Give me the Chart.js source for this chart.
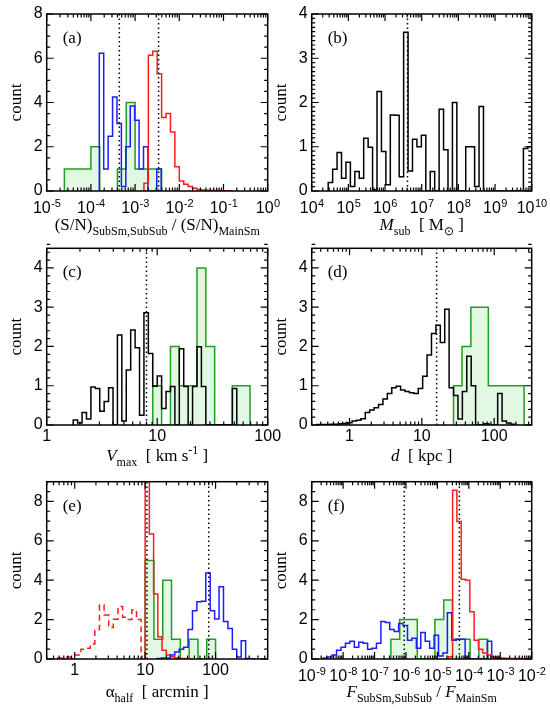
<!DOCTYPE html>
<html>
<head>
<meta charset="utf-8">
<script src="https://cdn.jsdelivr.net/npm/chart.js@4.4.0/dist/chart.umd.min.js"></script>
<style>
    body { margin: 0; width: 550px; height: 709px; background: #fff; position: relative; overflow: hidden; }
    canvas { position: absolute; }
</style>
</head>
<body>
<canvas id="panelA" width="290" height="245" style="left:0px;top:0px"></canvas>
<canvas id="panelB" width="285" height="245" style="left:270px;top:0px"></canvas>
<canvas id="panelC" width="290" height="245" style="left:0px;top:225px"></canvas>
<canvas id="panelD" width="285" height="245" style="left:270px;top:225px"></canvas>
<canvas id="panelE" width="290" height="249" style="left:0px;top:460px"></canvas>
<canvas id="panelF" width="285" height="249" style="left:270px;top:460px"></canvas>
<script>
// ---- data (bins given as log10 lower edge + log10 width, or explicit edges) ----

// (a) (S/N) ratio
const aBlueLo = -3.81, aBlueW = 0.1;
const aBlueCounts = [6.23, 1.0, 2.47, 4.25, 3.05, 0.2, 2.0, 3.84, 3.2, 1.0, 2.0, 0, 0, 1.0];
const aRedLo = -2.8, aRedW = 0.1;
const aRedCounts = [0.35, 6.13, 6.32, 5.3, 3.32, 3.5, 2.67, 1.1, 0.45, 0.3, 0.2, 0.12, 0.07, 0.04, 0.03, 0.02, 0.02, 0.01, 0.01, 0.01];
const aGreenLo = -4.6, aGreenW = 0.2;
const aGreenCounts = [1, 1, 1, 2, 0, 0, 1, 4, 1, 1, 1];
const aDotted = [4.4e-4, 3.4e-3];
const aXTicks = [1e-5, 1e-4, 1e-3, 1e-2, 1e-1, 1];
const aYTicks = [0, 2, 4, 6, 8];

// (b) M_sub
const bBlackLo = 4.45, bBlackW = 0.121;
const bBlackCounts = [0.19, 0.49, 0.87, 0.29, 0.65, 0.1, 0.44, 0.29, 1.19, 0.99,
    0.03, 2.25, 0.89, 0.14, 1.72, 1.71, 0.32, 3.59, 0.45, 1.17,
    1.0, 1.26, 0, 0.44, 0, 1.85, 0.93, 0, 2.0, 0,
    0, 1.0, 1.0, 0.1, 1.91, 0, 0, 0, 0, 0, 0, 0, 0, 0, 0.96, 1.0];
const bDotted = [4.1e6];
const bXTicks = [1e4, 1e5, 1e6, 1e7, 1e8, 1e9, 1e10];
const bYTicks = [0, 1, 2, 3, 4];

// (c) V_max
const cBlackLo = 0.24, cBlackW = 0.04;
const cBlackCounts = [0.13, 0.05, 0.32, 0.15, 0.97, 0.93, 0.35, 0.6, 0.95, 0, 2.29, 0.1, 1.4, 2.42, 1.97, 0.25,
    2.86, 1.82, 0.99, 1.25, 0.42, 0.85, 0.98, 0, 1.94, 0.98, 0, 0.98, 1.99, 0.98, 0, 0, 0, 0, 0, 0, 0.93];
const cGreenLo = 0.96, cGreenW = 0.08;
const cGreenCounts = [1, 0, 2, 1, 1, 4, 2, 0, 0, 1, 1];
const cDotted = [8.0];
const cXTicks = [1, 10, 100];
const cYTicks = [0, 1, 2, 3, 4];

// (d) distance
const dBlackLo = -0.453, dBlackW = 0.061;
const dBlackCounts = [0.01, 0.01, 0.01, 0.02, 0.02, 0.03, 0.04, 0.06, 0.1, 0.12, 0.16, 0.32, 0.38, 0.44, 0.52,
    0.66, 0.8, 0.95, 0.99, 0.89, 0.85, 0.82, 0.8, 0.93, 1.24, 1.78, 2.33, 2.54, 2.1, 2.95,
    0.95, 0.75, 0.15, 0.85, 1.75, 1.0, 0, 0, 0.03, 0, 0, 0.8, 0.1, 0.05, 0.02];
const dGreenEdges = [27.4, 35.9, 47.6, 83, 259];
const dGreenCounts = [1, 2, 3, 1];
const dDotted = [16];
const dXTicks = [1, 10, 100];
const dYTicks = [0, 1, 2, 3, 4];

// (e) alpha_half
const eRedLo = 1.0, eRedW = 0.06;
const eRedCounts = [12, 6.35, 3.3, 1.13, 0.45, 0.2, 0.12, 0.05, 0.03, 0.02, 0.01];
const eDashLo = -0.24, eDashW = 0.0657;
const eDashCounts = [0.05, 0.09, 0.1, 0.2, 0.2, 0.5, 0.55, 0.76, 1.5, 2.74, 2.23, 1.6, 2.02, 2.66, 2.12, 2.0, 2.5, 2.0];
const eBlueLo = 1.169, eBlueW = 0.0629;
const eBlueCounts = [0.02, 0.05, 0.05, 0.2, 0.35, 0.5, 0.6, 1.5, 2.45, 2.9, 2.93, 4.37, 2.45, 2.03, 3.67, 1.9, 1.55, 0.5, 0.1, 0.93, 0.02, 0.01];
const eGreenLo = 1.0, eGreenW = 0.125;
const eGreenCounts = [5, 1, 4, 1, 0, 1, 0, 1];
const eDotted = [10.6, 80];
const eXTicks = [1, 10, 100];
const eYTicks = [0, 2, 4, 6, 8];

// (f) flux ratio
const fRedLo = -4.654, fRedW = 0.137;
const fRedCounts = [0.12, 8.56, 6.98, 4.05, 4.0, 2.4, 0.95, 0.5, 0.3, 0.2, 0.12, 0.08, 0.05, 0.04, 0.03, 0.02, 0.02, 0.01];
const fBlueLo = -8.631, fBlueW = 0.141;
const fBlueCounts = [0.05, 0.1, 0.2, 0.45, 0.6, 0.8, 0.9, 0.6, 0.85, 0.8, 0.5, 0.55, 0.8, 1.9, 1.85, 1.5, 1.4, 1.8, 1.7, 0.95,
    1.05, 0.55, 1.35, 0.9, 0.55, 1.2, 0.15, 0.3, 2.35, 0.95, 1.0, 1.0, 0.05, 0, 0, 0, 0, 0.9, 0.1, 0.05];
const fGreenLo = -6.48, fGreenW = 0.28;
const fGreenCounts = [1, 2, 2, 0, 0, 2, 3, 1, 1, 0, 1];
const fDotted = [8.8e-7, 5.0e-5];
const fXTicks = [1e-9, 1e-8, 1e-7, 1e-6, 1e-5, 1e-4, 1e-3, 1e-2];
const fYTicks = [0, 2, 4, 6, 8];

// ---- helpers ----
const BLUE = '#1c1cff', RED = '#ff1c1c', GREEN = '#1f9f1f', GREEN_FILL = '#e2f8e2';

const logEdges = (lo, w, n) => Array.from({ length: n + 1 }, (_, i) => Math.pow(10, lo + i * w));

// outline of a histogram as stepped points
function stepPoints(edges, counts) {
    const pts = [{ x: edges[0], y: 0 }];
    counts.forEach((c, i) => pts.push({ x: edges[i], y: c }));
    pts.push({ x: edges[counts.length], y: 0 });
    return pts;
}
const histLog = (lo, w, counts) => stepPoints(logEdges(lo, w, counts.length), counts);

const plainLabel = v => String(Math.round(v));

const SERIF = "'Liberation Serif', 'Times New Roman', serif";
const SANS = "'Liberation Sans', Arial, sans-serif";

// draw a label made of pieces: '' normal, 'i' italic, 'sub', 'sup'
function drawRich(ctx, parts, cx, baseY, size) {
    const fontFor = st => {
        const sz = (st === 'sub' || st === 'sup') ? Math.round(size * 0.68) : size;
        return (st === 'i' ? 'italic ' : '') + sz + 'px ' + SERIF;
    };
    let total = 0;
    parts.forEach(([t, st]) => { ctx.font = fontFor(st); total += ctx.measureText(t).width; });
    let x = cx - total / 2;
    ctx.textAlign = 'left';
    ctx.textBaseline = 'alphabetic';
    parts.forEach(([t, st]) => {
        ctx.font = fontFor(st);
        const dy = st === 'sub' ? size * 0.28 : st === 'sup' ? -size * 0.4 : 0;
        ctx.fillText(t, x, baseY + dy);
        x += ctx.measureText(t).width;
    });
}

// "10" with a raised exponent, centred on px
function drawPow(ctx, v, px, top) {
    const exp = String(Math.round(Math.log10(v)));
    ctx.font = '16px ' + SANS;
    const wBase = ctx.measureText('10').width;
    ctx.font = '11px ' + SANS;
    const wExp = ctx.measureText(exp).width;
    const x0 = px - (wBase + wExp) / 2;
    ctx.textAlign = 'left';
    ctx.textBaseline = 'alphabetic';
    ctx.font = '16px ' + SANS;
    ctx.fillText('10', x0, top + 22);
    ctx.font = '11px ' + SANS;
    ctx.fillText(exp, x0 + wBase + 0.5, top + 15.5);
}

// frame, inward ticks on all four sides, titles and panel letter
const framePlugin = {
    id: 'frame',
    afterDraw(chart, args, opts) {
        const { ctx, chartArea: a, scales: { x, y } } = chart;
        ctx.save();
        ctx.strokeStyle = '#000';
        ctx.fillStyle = '#000';
        ctx.lineWidth = 1.2;
        ctx.beginPath();
        const lo = Math.floor(Math.log10(x.min)), hi = Math.ceil(Math.log10(x.max));
        for (let e = lo; e <= hi; e++) {
            for (let m = 1; m <= 9; m++) {
                const v = m * Math.pow(10, e);
                if (v < x.min * 0.999 || v > x.max * 1.001) continue;
                const px = x.getPixelForValue(v);
                const len = m === 1 ? 7 : 3.5;
                ctx.moveTo(px, a.bottom); ctx.lineTo(px, a.bottom - len);
                ctx.moveTo(px, a.top); ctx.lineTo(px, a.top + len);
            }
        }
        const nMinor = Math.round((y.max - y.min) / opts.yMinor);
        for (let i = 0; i <= nMinor; i++) {
            const v = y.min + i * opts.yMinor;
            const major = Math.abs(v / opts.yMajor - Math.round(v / opts.yMajor)) < 1e-6;
            const py = y.getPixelForValue(v);
            const len = major ? 7 : 3.5;
            ctx.moveTo(a.left, py); ctx.lineTo(a.left + len, py);
            ctx.moveTo(a.right, py); ctx.lineTo(a.right - len, py);
        }
        ctx.stroke();
        ctx.lineWidth = 1.5;
        ctx.strokeRect(a.left, a.top, a.right - a.left, a.bottom - a.top);

        // power-of-ten tick labels
        if (opts.powTicks) {
            opts.powTicks.forEach(v => drawPow(ctx, v, x.getPixelForValue(v), a.bottom));
        }

        // panel letter
        ctx.font = '17px ' + SERIF;
        ctx.textAlign = 'left';
        ctx.textBaseline = 'alphabetic';
        ctx.fillText(opts.letter, a.left + 16, a.top + 29);

        // y title
        ctx.save();
        ctx.translate(a.left - 30, (a.top + a.bottom) / 2);
        ctx.rotate(-Math.PI / 2);
        ctx.textAlign = 'center';
        ctx.textBaseline = 'middle';
        ctx.font = '17px ' + SERIF;
        ctx.fillText('count', 0, 0);
        ctx.restore();

        // x title
        drawRich(ctx, opts.xTitle, (a.left + a.right) / 2, a.bottom + opts.titleGap, 17);
        ctx.restore();
    }
};

function makePanel(canvasId, p) {
    const datasets = p.series.map(s => ({
        data: s.points,
        borderColor: s.color,
        borderWidth: 1.5,
        borderDash: s.dash || [],
        backgroundColor: s.fill || 'rgba(0,0,0,0)',
        fill: s.fill ? 'origin' : false,
        stepped: true,
        pointRadius: 0,
        order: s.order
    }));
    p.dotted.forEach(v => datasets.push({
        data: [{ x: v, y: p.yMin }, { x: v, y: p.yMax }],
        borderColor: '#000',
        borderWidth: 1.5,
        borderDash: [1.5, 3],
        pointRadius: 0,
        fill: false,
        order: 0
    }));

    return new Chart(document.getElementById(canvasId).getContext('2d'), {
        type: 'line',
        data: { datasets },
        options: {
            responsive: false,
            animation: false,
            events: [],
            layout: { padding: p.padding },
            scales: {
                x: {
                    type: 'logarithmic',
                    min: p.xMin,
                    max: p.xMax,
                    grid: { display: false, drawTicks: false },
                    border: { display: false },
                    afterFit: s => { s.height = p.xAxisH; },
                    afterBuildTicks: s => { s.ticks = p.xTicks.map(v => ({ value: v })); },
                    ticks: {
                        display: !p.powLabels,
                        autoSkip: false,
                        maxRotation: 0,
                        padding: 2,
                        color: '#000',
                        font: { family: SANS, size: 16 },
                        callback: v => plainLabel(v)
                    }
                },
                y: {
                    type: 'linear',
                    min: p.yMin,
                    max: p.yMax,
                    grid: { display: false, drawTicks: false },
                    border: { display: false },
                    afterFit: s => { s.width = p.yAxisW; },
                    afterBuildTicks: s => { s.ticks = p.yTicks.map(v => ({ value: v })); },
                    ticks: {
                        padding: 4,
                        color: '#000',
                        font: { family: SANS, size: 16 },
                        callback: v => String(v)
                    }
                }
            },
            plugins: {
                legend: { display: false },
                tooltip: { enabled: false },
                frame: {
                    letter: p.letter,
                    xTitle: p.xTitle,
                    titleGap: p.titleGap,
                    powTicks: p.powLabels ? p.xTicks : null,
                    yMajor: p.yTicks[1] - p.yTicks[0],
                    yMinor: p.yMinor
                }
            }
        },
        plugins: [framePlugin]
    });
}

// column / row geometry of the six canvases
const leftCol = { yAxisW: 46.7, padding: { left: 0, right: 22.3 } };
const rightCol = { yAxisW: 41.7, padding: { left: 0, right: 23.3 } };

makePanel('panelA', {
    letter: '(a)',
    series: [
        { points: histLog(aGreenLo, aGreenW, aGreenCounts), color: GREEN, fill: GREEN_FILL, order: 9 },
        { points: histLog(aBlueLo, aBlueW, aBlueCounts), color: BLUE, order: 3 },
        { points: histLog(aRedLo, aRedW, aRedCounts), color: RED, order: 2 }
    ],
    dotted: aDotted,
    xMin: 1e-5, xMax: 1, xTicks: aXTicks, powLabels: true,
    yMin: 0, yMax: 8, yTicks: aYTicks, yMinor: 0.5,
    yAxisW: leftCol.yAxisW, xAxisH: 54, padding: { ...leftCol.padding, top: 14, bottom: 0 },
    titleGap: 39,
    xTitle: [['(S/N)', ''], ['SubSm,SubSub', 'sub'], [' / (S/N)', ''], ['MainSm', 'sub']]
});

makePanel('panelB', {
    letter: '(b)',
    series: [
        { points: histLog(bBlackLo, bBlackW, bBlackCounts), color: '#000', order: 2 }
    ],
    dotted: bDotted,
    xMin: 1e4, xMax: 1e10, xTicks: bXTicks, powLabels: true,
    yMin: 0, yMax: 4, yTicks: bYTicks, yMinor: 0.1,
    yAxisW: rightCol.yAxisW, xAxisH: 54, padding: { ...rightCol.padding, top: 14, bottom: 0 },
    titleGap: 39,
    xTitle: [['M', 'i'], ['sub', 'sub'], ['  [ M', ''], ['\u2299', 'sub'], [' ]', '']]
});

makePanel('panelC', {
    letter: '(c)',
    series: [
        { points: histLog(cGreenLo, cGreenW, cGreenCounts), color: GREEN, fill: GREEN_FILL, order: 9 },
        { points: histLog(cBlackLo, cBlackW, cBlackCounts), color: '#000', order: 2 }
    ],
    dotted: cDotted,
    xMin: 1, xMax: 100, xTicks: cXTicks, powLabels: false,
    yMin: 0, yMax: 4.5, yTicks: cYTicks, yMinor: 0.2,
    yAxisW: leftCol.yAxisW, xAxisH: 45, padding: { ...leftCol.padding, top: 23.3, bottom: 0 },
    titleGap: 36,
    xTitle: [['V', 'i'], ['max', 'sub'], ['  [ km s', ''], ['-1', 'sup'], [' ]', '']]
});

makePanel('panelD', {
    letter: '(d)',
    series: [
        { points: stepPoints(dGreenEdges, dGreenCounts), color: GREEN, fill: GREEN_FILL, order: 9 },
        { points: histLog(dBlackLo, dBlackW, dBlackCounts), color: '#000', order: 2 }
    ],
    dotted: dDotted,
    xMin: 0.33, xMax: 330, xTicks: dXTicks, powLabels: false,
    yMin: 0, yMax: 4.5, yTicks: dYTicks, yMinor: 0.2,
    yAxisW: rightCol.yAxisW, xAxisH: 45, padding: { ...rightCol.padding, top: 23.3, bottom: 0 },
    titleGap: 36,
    xTitle: [['d', 'i'], ['  [ kpc ]', '']]
});

makePanel('panelE', {
    letter: '(e)',
    series: [
        { points: histLog(eGreenLo, eGreenW, eGreenCounts), color: GREEN, fill: GREEN_FILL, order: 9 },
        { points: histLog(eDashLo, eDashW, eDashCounts), color: RED, dash: [6, 4], order: 5 },
        { points: histLog(eRedLo, eRedW, eRedCounts), color: RED, order: 3 },
        { points: histLog(eBlueLo, eBlueW, eBlueCounts), color: BLUE, order: 2 }
    ],
    dotted: eDotted,
    xMin: 0.4, xMax: 550, xTicks: eXTicks, powLabels: false,
    yMin: 0, yMax: 9, yTicks: eYTicks, yMinor: 0.5,
    yAxisW: leftCol.yAxisW, xAxisH: 50, padding: { ...leftCol.padding, top: 21.7, bottom: 0 },
    titleGap: 38,
    xTitle: [['\u03B1', ''], ['half', 'sub'], ['  [ arcmin ]', '']]
});

makePanel('panelF', {
    letter: '(f)',
    series: [
        { points: histLog(fGreenLo, fGreenW, fGreenCounts), color: GREEN, fill: GREEN_FILL, order: 9 },
        { points: histLog(fBlueLo, fBlueW, fBlueCounts), color: BLUE, order: 3 },
        { points: histLog(fRedLo, fRedW, fRedCounts), color: RED, order: 2 }
    ],
    dotted: fDotted,
    xMin: 1e-9, xMax: 1e-2, xTicks: fXTicks, powLabels: true,
    yMin: 0, yMax: 9, yTicks: fYTicks, yMinor: 0.5,
    yAxisW: rightCol.yAxisW, xAxisH: 50, padding: { ...rightCol.padding, top: 21.7, bottom: 0 },
    titleGap: 38,
    xTitle: [['F', 'i'], ['SubSm,SubSub', 'sub'], [' / ', ''], ['F', 'i'], ['MainSm', 'sub']]
});
</script>
</body>
</html>
